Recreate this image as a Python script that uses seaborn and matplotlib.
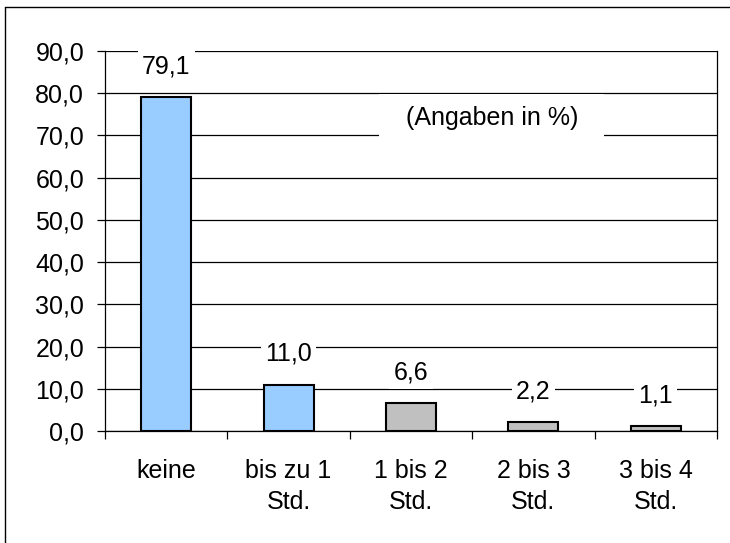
import matplotlib
matplotlib.use("Agg")
import matplotlib.pyplot as plt
import seaborn as sns
import pandas as pd
from matplotlib.lines import Line2D
from matplotlib.ticker import FuncFormatter, FixedLocator

# Daten
kategorien = ['keine', 'bis zu 1\nStd.', '1 bis 2\nStd.', '2 bis 3\nStd.', '3 bis 4\nStd.']
werte = [79.1, 11.0, 6.6, 2.2, 1.1]
farben = ['#99CCFF', '#99CCFF', '#C0C0C0', '#C0C0C0', '#C0C0C0']
y_ticks = [0, 10, 20, 30, 40, 50, 60, 70, 80, 90]

sns.set_style('white')
plt.rcParams['font.family'] = ['Liberation Sans', 'DejaVu Sans']
plt.rcParams['text.color'] = 'black'
plt.rcParams['xtick.color'] = 'black'
plt.rcParams['ytick.color'] = 'black'

df = pd.DataFrame({'Kategorie': kategorien, 'Wert': werte})

fig = plt.figure(figsize=(7.3, 5.43), dpi=100)
ax = fig.add_axes([105 / 730, 1 - 431 / 543, 612 / 730, 380 / 543])

sns.barplot(data=df, x='Kategorie', y='Wert', hue='Kategorie', palette=farben,
            legend=False, width=0.41, edgecolor='black', linewidth=1.5,
            saturation=1, ax=ax, zorder=3)

ax.set_ylim(0, 90)
ax.set_xlim(-0.5, len(kategorien) - 0.5)
ax.set_yticks(y_ticks)
ax.yaxis.set_major_formatter(FuncFormatter(lambda v, p: f'{v:.1f}'.replace('.', ',')))
ax.grid(axis='y', color='black', linewidth=0.9, zorder=0)
ax.set_axisbelow(True)

# Tickmarks zwischen den Kategorien
ax.xaxis.set_minor_locator(FixedLocator([i - 0.5 for i in range(len(kategorien) + 1)]))
ax.tick_params(axis='x', which='minor', length=6, width=0.9, color='black', direction='out', bottom=True)
ax.tick_params(axis='x', which='major', length=0, pad=20, labelsize=18)
ax.tick_params(axis='y', length=6, width=0.9, color='black', direction='out', pad=9, labelsize=18, left=True)
for lbl in ax.get_xticklabels():
    lbl.set_linespacing(1.4)

ax.set_xlabel('')
ax.set_ylabel('')
for s in ['left', 'right', 'bottom']:
    ax.spines[s].set_visible(True)
    ax.spines[s].set_color('black')
    ax.spines[s].set_linewidth(0.9)
ax.spines['top'].set_visible(False)

# Wertebeschriftungen
for i, v in enumerate(werte):
    ax.annotate(f'{v:.1f}'.replace('.', ','), (i, v), xytext=(0, 22), textcoords='offset points',
                ha='center', va='center', fontsize=18, zorder=5,
                bbox=dict(facecolor='white', edgecolor='none', pad=3))

ax.text(2.66, 74.1, '  (Angaben in %)  ', ha='center', va='center', fontsize=18, zorder=5,
        bbox=dict(facecolor='white', edgecolor='none', pad=9))

# Rahmen
fig.add_artist(Line2D([5 / 730, 5 / 730], [0, 1 - 7 / 543], color='black', linewidth=1, transform=fig.transFigure))
fig.add_artist(Line2D([5 / 730, 1], [1 - 7 / 543, 1 - 7 / 543], color='black', linewidth=1, transform=fig.transFigure))

fig.savefig('out.png', dpi=100)
